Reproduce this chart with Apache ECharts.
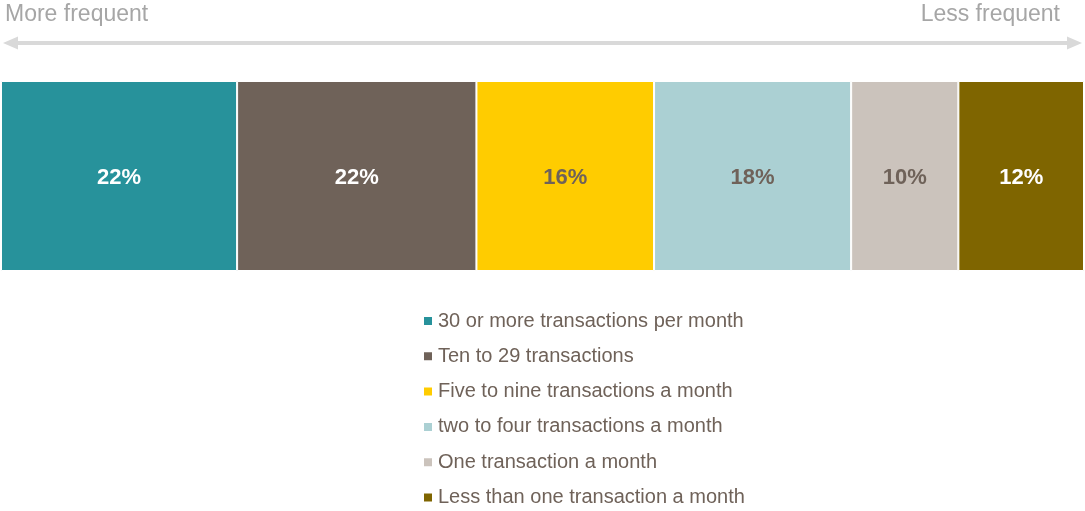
<!DOCTYPE html>
<html>
<head>
<meta charset="utf-8">
<script src="https://cdn.jsdelivr.net/npm/echarts@6/dist/echarts.min.js"></script>
<style>
  html, body { margin: 0; padding: 0; background: #fff; }
  #main { width: 1085px; height: 511px; }
</style>
</head>
<body>
<div id="main"></div>
<script>
// share of respondents by transaction frequency (%)
var categories = [
  "30 or more transactions per month",
  "Ten to 29 transactions",
  "Five to nine transactions a month",
  "two to four transactions a month",
  "One transaction a month",
  "Less than one transaction a month"
];
var shares = [21.8, 22.1, 16.4, 18.2, 9.9, 11.6];
var colors = ["#27929b", "#6f6259", "#ffcc00", "#abd0d3", "#cbc3bc", "#7f6500"];
var labelColors = ["#ffffff", "#ffffff", "#6f6259", "#6f6259", "#6f6259", "#ffffff"];

var chart = echarts.init(document.getElementById("main"));
var font = "Liberation Sans, Arial, sans-serif";

var series = categories.map(function (name, i) {
  return {
    name: name,
    type: "bar",
    stack: "total",
    barWidth: 190,
    data: [shares[i]],
    itemStyle: { color: colors[i], borderColor: "#fff", borderWidth: 1 },
    label: {
      show: true,
      position: "inside",
      offset: [0, 2],
      formatter: function (p) { return Math.round(p.value) + "%"; },
      color: labelColors[i],
      fontSize: 22,
      fontWeight: "bold",
      fontFamily: font
    }
  };
});

var option = {
  animation: false,
  color: colors,
  grid: { left: 1, right: 1, top: 81, height: 190 },
  xAxis: { type: "value", min: 0, max: 100, show: false },
  yAxis: { type: "category", data: ["all"], show: false },
  legend: {
    orient: "vertical",
    left: 422,
    top: 311,
    padding: 0,
    icon: "rect",
    itemWidth: 10,
    itemHeight: 10,
    itemGap: 15.3,
    textStyle: { color: "#6f6259", fontSize: 20, fontFamily: font }
  },
  graphic: [
    { type: "text", left: 5, top: 3, style: { text: "More frequent", fill: "#a6a6a6", font: "23px " + font } },
    { type: "text", right: 25, top: 3, style: { text: "Less frequent", fill: "#a6a6a6", font: "23px " + font } },
    { type: "rect", shape: { x: 14, y: 41, width: 1057, height: 4 }, style: { fill: "#d9d9d9" } },
    { type: "polygon", shape: { points: [[3, 43], [18, 36.5], [18, 49.5]] }, style: { fill: "#d9d9d9" } },
    { type: "polygon", shape: { points: [[1082, 43], [1067, 36.5], [1067, 49.5]] }, style: { fill: "#d9d9d9" } }
  ],
  series: series
};
chart.setOption(option);
</script>
</body>
</html>
